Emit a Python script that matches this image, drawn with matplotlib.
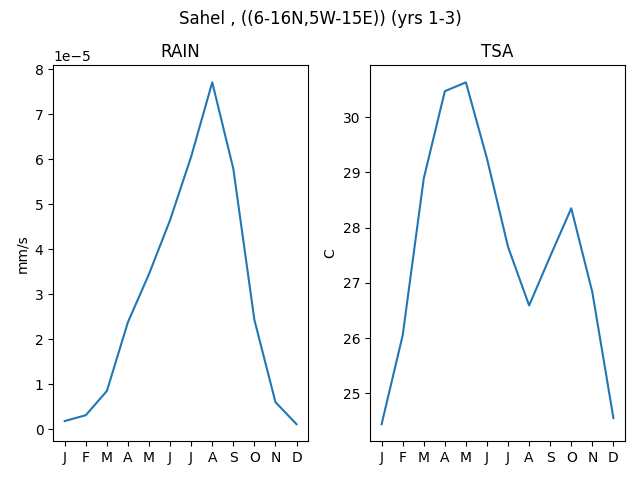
import matplotlib
matplotlib.use('Agg')
import matplotlib.pyplot as plt

# monthly climatology
months = ['J', 'F', 'M', 'A', 'M', 'J', 'J', 'A', 'S', 'O', 'N', 'D']
rain = [0.18e-5, 0.31e-5, 0.85e-5, 2.38e-5, 3.45e-5, 4.65e-5,
        6.06e-5, 7.71e-5, 5.79e-5, 2.43e-5, 0.60e-5, 0.11e-5]
tsa = [24.44, 26.05, 28.89, 30.47, 30.63, 29.25,
       27.65, 26.59, 27.48, 28.35, 26.83, 24.55]

fig, (ax1, ax2) = plt.subplots(1, 2, figsize=(6.4, 4.8))
x = range(len(months))

ax1.plot(x, rain)
ax1.set_title('RAIN')
ax1.set_ylabel('mm/s')
ax1.set_xticks(list(x))
ax1.set_xticklabels(months)

ax2.plot(x, tsa)
ax2.set_title('TSA')
ax2.set_ylabel('C')
ax2.set_xticks(list(x))
ax2.set_xticklabels(months)

fig.suptitle('Sahel , ((6-16N,5W-15E)) (yrs 1-3)')
fig.tight_layout()
fig.subplots_adjust(top=0.864)
fig.savefig('out.png', dpi=100)
